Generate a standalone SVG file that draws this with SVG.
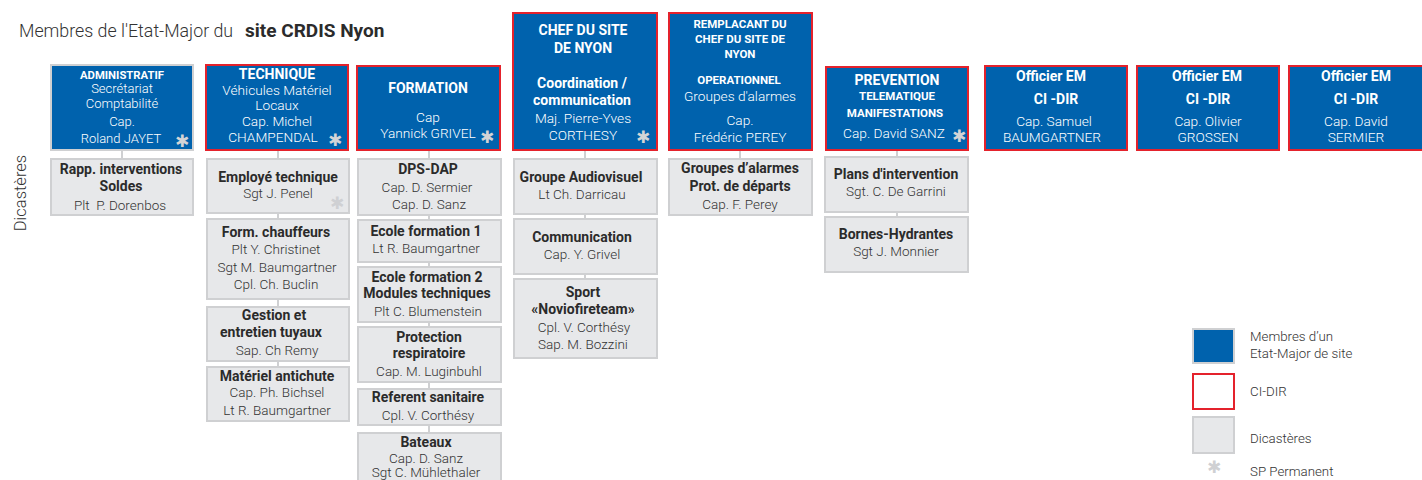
<svg xmlns="http://www.w3.org/2000/svg" width="1422" height="480" viewBox="0 0 1422 480">
<style>
text{font-family:Roboto,"Liberation Sans",sans-serif;text-anchor:middle}
.blue{fill:#0062ad}
.gs{stroke:#cfd0d2;stroke-width:2}
.rs{stroke:#e4222c;stroke-width:2}
.grey{fill:#e7e8ea;stroke:#cfd0d2;stroke-width:2}
.w{fill:#fff;font-size:13.7px;font-weight:300}
.wb{fill:#fff;font-size:14px;font-weight:700}
.ws{fill:#fff;font-size:11.5px;font-weight:700}
.n{fill:#333;font-size:13.5px;font-weight:300}
.nb{fill:#2b2b2b;font-size:14px;font-weight:700}
.ast{font-family:"DejaVu Sans",sans-serif;font-size:17px;fill:#d3d4d6}
.astg{font-family:"DejaVu Sans",sans-serif;font-size:17px;fill:#cfd0d3}
.lg{fill:#333;font-size:13.3px;font-weight:300;text-anchor:start}
.con line{stroke:#cfd0d2;stroke-width:2}
</style>

<g id="title">
<text x="19" y="37" style="text-anchor:start;font-size:17.8px;font-weight:300;fill:#333">Membres de l'Etat-Major du</text>
<text x="245" y="37" style="text-anchor:start;font-size:19px;font-weight:700;fill:#2b2b2b">site CRDIS Nyon</text>
<text transform="translate(26 193) rotate(-90)" style="font-size:16.5px;font-weight:300;fill:#333">Dicastères</text>
</g>

<g id="connectors" class="con">
<line x1="122" y1="150" x2="122" y2="159"/>
<line x1="278" y1="150" x2="278" y2="159"/>
<line x1="278" y1="213" x2="278" y2="219"/>
<line x1="278" y1="299" x2="278" y2="307"/>
<line x1="278" y1="361" x2="278" y2="367"/>
<line x1="429" y1="150" x2="429" y2="159"/>
<line x1="429" y1="215" x2="429" y2="220"/>
<line x1="429" y1="262" x2="429" y2="267"/>
<line x1="429" y1="322" x2="429" y2="327"/>
<line x1="429" y1="382" x2="429" y2="389"/>
<line x1="429" y1="425" x2="429" y2="433"/>
<line x1="585" y1="150" x2="585" y2="159"/>
<line x1="585" y1="214" x2="585" y2="219"/>
<line x1="585" y1="274" x2="585" y2="279"/>
<line x1="740" y1="150" x2="740" y2="159"/>
<line x1="897" y1="150" x2="897" y2="157"/>
<line x1="897" y1="212" x2="897" y2="217"/>
</g>

<!-- top row -->
<g id="administratif">
<rect class="blue gs" x="51" y="65" width="142" height="85"/>
<text class="ws" x="122" y="79" style="font-size:11.3px">ADMINISTRATIF</text>
<text class="w" x="122" y="93" style="font-size:13px">Secrétariat</text>
<text class="w" x="122" y="108" style="font-size:13px">Comptabilité</text>
<text class="w" x="122" y="126" style="font-size:13px">Cap.</text>
<text class="w" x="121" y="143" style="font-size:13px">Roland JAYET</text>
<text class="ast" x="182" y="147">✱</text>
</g>

<g id="technique">
<rect class="blue rs" x="206" y="65" width="142" height="85"/>
<text class="wb" x="277" y="79">TECHNIQUE</text>
<text class="w" x="277" y="95">Véhicules Matériel</text>
<text class="w" x="277" y="110">Locaux</text>
<text class="w" x="277" y="126">Cap. Michel</text>
<text class="w" x="273" y="142">CHAMPENDAL</text>
<text class="ast" x="335" y="146">✱</text>
</g>

<g id="formation">
<rect class="blue rs" x="357" y="66" width="143" height="84"/>
<text class="wb" x="428" y="93">FORMATION</text>
<text class="w" x="428" y="122">Cap</text>
<text class="w" x="428" y="138">Yannick GRIVEL</text>
<text class="ast" x="487" y="143">✱</text>
</g>

<g id="chef">
<rect class="blue rs" x="513" y="13" width="144" height="137"/>
<text class="wb" x="583" y="35">CHEF DU SITE</text>
<text class="wb" x="583" y="53">DE NYON</text>
<text class="wb" x="582" y="88">Coordination /</text>
<text class="wb" x="582" y="105">communication</text>
<text class="w" x="583" y="123">Maj. Pierre-Yves</text>
<text class="w" x="583" y="140">CORTHESY</text>
<text class="ast" x="643" y="143">✱</text>
</g>

<g id="remplacant">
<rect class="blue rs" x="669" y="13" width="143" height="137"/>
<text class="ws" x="740" y="28">REMPLACANT DU</text>
<text class="ws" x="740" y="43">CHEF DU SITE DE</text>
<text class="ws" x="740" y="58">NYON</text>
<text class="ws" x="739" y="84">OPERATIONNEL</text>
<text class="w" x="740" y="101">Groupes d'alarmes</text>
<text class="w" x="740" y="125">Cap.</text>
<text class="w" x="740" y="142">Frédéric PEREY</text>
</g>

<g id="prevention">
<rect class="blue rs" x="826" y="67" width="142" height="83"/>
<text class="wb" x="897" y="85">PREVENTION</text>
<text class="ws" x="897" y="100">TELEMATIQUE</text>
<text class="ws" x="895" y="117">MANIFESTATIONS</text>
<text class="w" x="894" y="138">Cap. David SANZ</text>
<text class="ast" x="959" y="142">✱</text>
</g>

<g id="officier1">
<rect class="blue rs" x="985" y="66" width="142" height="84"/>
<text class="wb" x="1051" y="81">Officier EM</text>
<text class="wb" x="1056" y="104">CI -DIR</text>
<text class="w" x="1054" y="126">Cap. Samuel</text>
<text class="w" x="1052" y="142">BAUMGARTNER</text>
</g>

<g id="officier2">
<rect class="blue rs" x="1137" y="66" width="142" height="84"/>
<text class="wb" x="1207" y="81">Officier EM</text>
<text class="wb" x="1208" y="104">CI -DIR</text>
<text class="w" x="1208" y="126">Cap. Olivier</text>
<text class="w" x="1208" y="142">GROSSEN</text>
</g>

<g id="officier3">
<rect class="blue rs" x="1289" y="66" width="142" height="84"/>
<text class="wb" x="1356" y="81">Officier EM</text>
<text class="wb" x="1356" y="104">CI -DIR</text>
<text class="w" x="1356" y="126">Cap. David</text>
<text class="w" x="1356" y="142">SERMIER</text>
</g>

<!-- column 1 -->
<g id="rapp">
<rect class="grey" x="51" y="159" width="142" height="56"/>
<text class="nb" x="121" y="174">Rapp. interventions</text>
<text class="nb" x="121" y="191">Soldes</text>
<text class="n" x="120" y="210">Plt&#160; P. Dorenbos</text>
</g>

<!-- column 2 -->
<g id="employe">
<rect class="grey" x="207" y="159" width="142" height="54"/>
<text class="nb" x="278" y="182">Employé technique</text>
<text class="n" x="278" y="198">Sgt J. Penel</text>
<text class="astg" x="337" y="209">✱</text>
</g>
<g id="chauffeurs">
<rect class="grey" x="207" y="219" width="142" height="80"/>
<text class="nb" x="276" y="237">Form. chauffeurs</text>
<text class="n" x="276" y="254">Plt Y. Christinet</text>
<text class="n" x="277" y="272">Sgt M. Baumgartner</text>
<text class="n" x="276" y="289">Cpl. Ch. Buclin</text>
</g>
<g id="tuyaux">
<rect class="grey" x="207" y="307" width="142" height="54"/>
<text class="nb" x="274" y="320">Gestion et</text>
<text class="nb" x="271" y="337">entretien tuyaux</text>
<text class="n" x="277" y="355">Sap. Ch Remy</text>
</g>
<g id="antichute">
<rect class="grey" x="207" y="367" width="142" height="54"/>
<text class="nb" x="277" y="381">Matériel antichute</text>
<text class="n" x="277" y="397">Cap. Ph. Bichsel</text>
<text class="n" x="277" y="415">Lt R. Baumgartner</text>
</g>

<!-- column 3 -->
<g id="dps">
<rect class="grey" x="358" y="159" width="143" height="56"/>
<text class="nb" x="428" y="174">DPS-DAP</text>
<text class="n" x="427" y="192">Cap. D. Sermier</text>
<text class="n" x="429" y="209">Cap. D. Sanz</text>
</g>
<g id="ecole1">
<rect class="grey" x="358" y="220" width="143" height="42"/>
<text class="nb" x="426" y="236">Ecole formation 1</text>
<text class="n" x="426" y="253">Lt R. Baumgartner</text>
</g>
<g id="ecole2">
<rect class="grey" x="358" y="267" width="143" height="55"/>
<text class="nb" x="427" y="282">Ecole formation 2</text>
<text class="nb" x="427" y="298">Modules techniques</text>
<text class="n" x="428" y="316">Plt C. Blumenstein</text>
</g>
<g id="protection">
<rect class="grey" x="358" y="327" width="143" height="55"/>
<text class="nb" x="429" y="342">Protection</text>
<text class="nb" x="429" y="358">respiratoire</text>
<text class="n" x="429" y="376">Cap. M. Luginbuhl</text>
</g>
<g id="sanitaire">
<rect class="grey" x="358" y="389" width="143" height="36"/>
<text class="nb" x="428" y="402">Referent sanitaire</text>
<text class="n" x="428" y="420">Cpl. V. Corthésy</text>
</g>
<g id="bateaux">
<rect class="grey" x="358" y="433" width="143" height="60"/>
<text class="nb" x="426" y="447">Bateaux</text>
<text class="n" x="426" y="463">Cap. D. Sanz</text>
<text class="n" x="426" y="477">Sgt C. Mühlethaler</text>
</g>

<!-- column 4 -->
<g id="audiovisuel">
<rect class="grey" x="514" y="159" width="143" height="55"/>
<text class="nb" x="581" y="182">Groupe Audiovisuel</text>
<text class="n" x="582" y="199">Lt Ch. Darricau</text>
</g>
<g id="communication">
<rect class="grey" x="514" y="219" width="143" height="55"/>
<text class="nb" x="582" y="242">Communication</text>
<text class="n" x="582" y="259">Cap. Y. Grivel</text>
</g>
<g id="sport">
<rect class="grey" x="514" y="279" width="143" height="79"/>
<text class="nb" x="583" y="297">Sport</text>
<text class="nb" x="583" y="314">«Noviofireteam»</text>
<text class="n" x="584" y="332">Cpl. V. Corthésy</text>
<text class="n" x="583" y="349">Sap. M. Bozzini</text>
</g>

<!-- column 5 -->
<g id="alarmes">
<rect class="grey" x="669" y="159" width="143" height="56"/>
<text class="nb" x="740" y="173">Groupes d’alarmes</text>
<text class="nb" x="740" y="191">Prot. de départs</text>
<text class="n" x="740" y="209">Cap. F. Perey</text>
</g>

<!-- column 6 -->
<g id="plans">
<rect class="grey" x="825" y="157" width="143" height="55"/>
<text class="nb" x="896" y="179">Plans d'intervention</text>
<text class="n" x="896" y="196">Sgt. C. De Garrini</text>
</g>
<g id="bornes">
<rect class="grey" x="825" y="217" width="143" height="55"/>
<text class="nb" x="896" y="239">Bornes-Hydrantes</text>
<text class="n" x="896" y="256">Sgt J. Monnier</text>
</g>

<!-- legend -->
<g id="legend">
<rect class="blue gs" x="1193" y="329" width="41" height="34"/>
<text class="lg" x="1250" y="341">Membres d’un</text>
<text class="lg" x="1250" y="358">Etat-Major de site</text>
<rect x="1193" y="374" width="41" height="35" fill="#fff" class="rs"/>
<text class="lg" x="1250" y="396">CI-DIR</text>
<rect class="grey" x="1193" y="417" width="41" height="36"/>
<text class="lg" x="1250" y="443">Dicastères</text>
<text class="astg" x="1214" y="473">✱</text>
<text class="lg" x="1250" y="476">SP Permanent</text>
</g>
</svg>
